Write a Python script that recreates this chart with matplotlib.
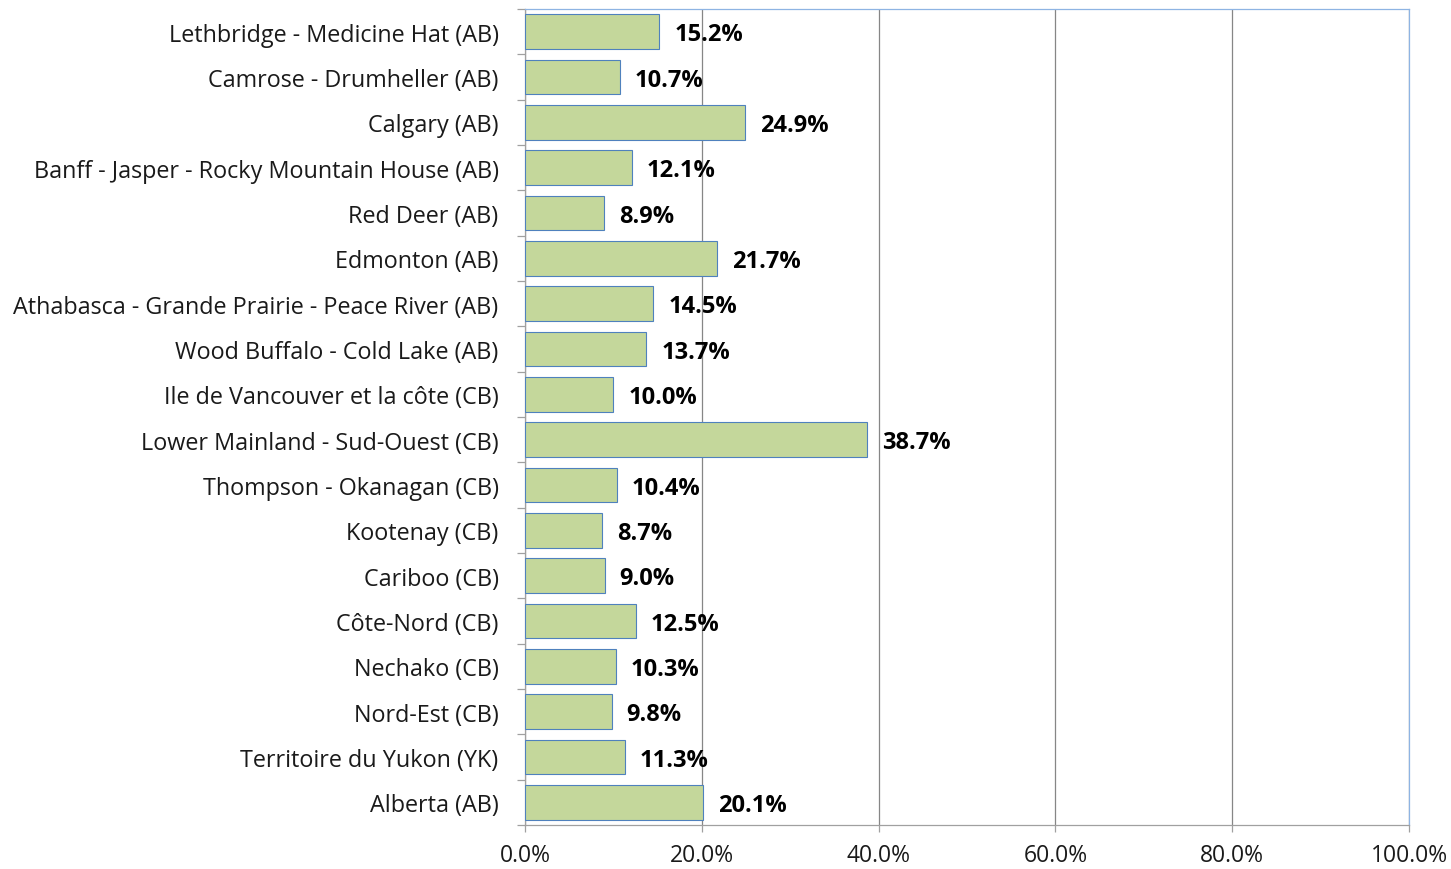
import numpy as np
import matplotlib.pyplot as plt
from matplotlib.ticker import PercentFormatter, FixedLocator

# regions, top to bottom as shown
regions = [
    "Lethbridge - Medicine Hat (AB)",
    "Camrose - Drumheller (AB)",
    "Calgary (AB)",
    "Banff - Jasper - Rocky Mountain House (AB)",
    "Red Deer (AB)",
    "Edmonton (AB)",
    "Athabasca - Grande Prairie - Peace River (AB)",
    "Wood Buffalo - Cold Lake (AB)",
    "Ile de Vancouver et la côte (CB)",
    "Lower Mainland - Sud-Ouest (CB)",
    "Thompson - Okanagan (CB)",
    "Kootenay (CB)",
    "Cariboo (CB)",
    "Côte-Nord (CB)",
    "Nechako (CB)",
    "Nord-Est (CB)",
    "Territoire du Yukon (YK)",
    "Alberta (AB)",
]
shares = [15.2, 10.7, 24.9, 12.1, 8.9, 21.7, 14.5, 13.7, 10.0,
          38.7, 10.4, 8.7, 9.0, 12.5, 10.3, 9.8, 11.3, 20.1]

plt.rcParams["font.family"] = ["Open Sans", "DejaVu Sans"]

fig = plt.figure(figsize=(14.51, 8.70), dpi=100)
ax = fig.add_axes([525/1451, 1 - 826/870, (1409 - 525)/1451, (826 - 10)/870])

y = np.arange(len(regions))[::-1]
ax.barh(y, shares, height=0.77, color="#C4D79B", edgecolor="#4F81BD", linewidth=0.8, zorder=3)

# bold value labels just past the end of each bar
for yi, v in zip(y, shares):
    ax.text(v + 1.7, yi - 0.06, f"{v:.1f}%", va="center", ha="left",
            fontsize=17, fontweight="bold", color="black", zorder=4)

ax.set_xlim(0, 100)
ax.set_ylim(-0.5, len(regions) - 0.5)
ax.xaxis.set_major_locator(FixedLocator([0, 20, 40, 60, 80, 100]))
ax.xaxis.set_major_formatter(PercentFormatter(decimals=1))
ax.grid(axis="x", color="#868686", linewidth=0.9, zorder=0)

ax.set_yticks(y)
ax.set_yticklabels(regions)
ax.set_yticks(np.arange(len(regions) + 1) - 0.5, minor=True)
ax.tick_params(axis="y", which="major", length=0, pad=19, labelsize=16.8, labelcolor="#1a1a1a")
ax.tick_params(axis="y", which="minor", length=6, color="#A0A0A0", width=0.9)
ax.tick_params(axis="x", length=5, color="#A0A0A0", width=0.9, labelsize=16.5, pad=8,
               labelcolor="#1a1a1a")

for s in ("left", "bottom"):
    ax.spines[s].set_color("#A0A0A0")
    ax.spines[s].set_linewidth(0.9)
for s in ("top", "right"):
    ax.spines[s].set_color("#8EB4E3")
    ax.spines[s].set_linewidth(0.9)

fig.savefig("out.png", dpi=100, facecolor="white")
